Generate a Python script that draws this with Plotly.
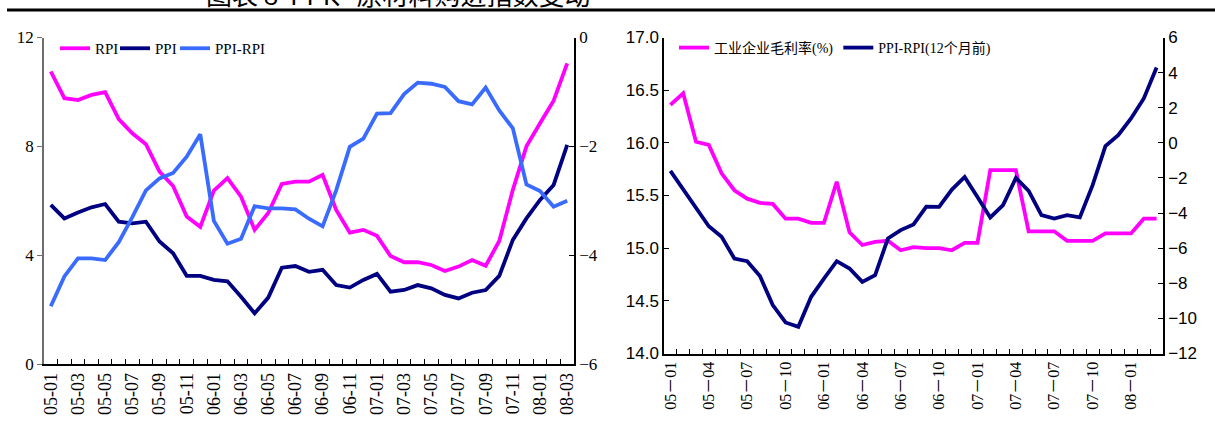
import plotly.graph_objects as go

# ---------------- data ----------------
months = ["05-01","05-02","05-03","05-04","05-05","05-06","05-07","05-08","05-09","05-10","05-11","05-12",
          "06-01","06-02","06-03","06-04","06-05","06-06","06-07","06-08","06-09","06-10","06-11","06-12",
          "07-01","07-02","07-03","07-04","07-05","07-06","07-07","07-08","07-09","07-10","07-11","07-12",
          "08-01","08-02","08-03"]

rpi = [10.75, 9.77, 9.70, 9.89, 9.99, 9.00, 8.48, 8.08, 7.07, 6.54, 5.42, 5.04,
       6.37, 6.83, 6.15, 4.93, 5.55, 6.62, 6.70, 6.70, 6.95, 5.66, 4.83, 4.93,
       4.71, 3.97, 3.74, 3.74, 3.64, 3.42, 3.58, 3.82, 3.61, 4.52, 6.40, 8.00,
       8.85, 9.68, 11.05]

ppi = [5.85, 5.35, 5.57, 5.76, 5.88, 5.23, 5.17, 5.23, 4.50, 4.07, 3.24, 3.24,
       3.09, 3.04, 2.47, 1.86, 2.44, 3.54, 3.60, 3.39, 3.46, 2.90, 2.81, 3.09,
       3.31, 2.66, 2.72, 2.90, 2.78, 2.54, 2.41, 2.62, 2.72, 3.24, 4.56, 5.35,
       6.03, 6.58, 8.05]

ppi_rpi = [-4.94, -4.39, -4.06, -4.06, -4.09, -3.76, -3.30, -2.81, -2.59, -2.49, -2.19, -1.78,
           -3.37, -3.79, -3.70, -3.10, -3.14, -3.14, -3.16, -3.33, -3.47, -2.81, -2.01, -1.86,
           -1.40, -1.39, -1.04, -0.83, -0.85, -0.91, -1.17, -1.23, -0.92, -1.34, -1.67, -2.70,
           -2.82, -3.11, -3.00]

gross_margin = [16.36, 16.47, 16.01, 15.98, 15.71, 15.55, 15.47, 15.43, 15.42, 15.28, 15.28, 15.24,
                15.24, 15.63, 15.15, 15.03, 15.06, 15.07, 14.98, 15.01, 15.00, 15.00, 14.98, 15.05,
                15.05, 15.74, 15.74, 15.74, 15.16, 15.16, 15.16, 15.07, 15.07, 15.07, 15.14, 15.14,
                15.14, 15.28, 15.28]

ppi_rpi_lag12 = [-1.60, -2.66, -3.70, -4.75, -5.35, -6.59, -6.74, -7.59, -9.24, -10.23, -10.48, -8.77,
                 -7.73, -6.74, -7.16, -7.92, -7.54, -5.45, -4.97, -4.65, -3.63, -3.65, -2.66, -1.94,
                 -3.08, -4.25, -3.55, -2.00, -2.74, -4.12, -4.31, -4.12, -4.25, -2.41, -0.19, 0.44,
                 1.39, 2.53, 4.29]

left_labels_every = 2
right_labels_every = 3

title_text = "图表 8  PPI、原材料购进指数变动"

# ---------------- figure ----------------
W, H = 1215, 432
MAGENTA = "#FF00FF"
NAVY = "#000080"
BLUE = "#3A6BFF"
LW = 3.8

serif = "Liberation Serif, Times New Roman, serif"
sans = "Liberation Sans, Arial, sans-serif"
legend_font = "Liberation Serif, Noto Sans CJK SC, serif"

fig = go.Figure()

fig.add_trace(go.Scatter(x=months, y=rpi, name="RPI", mode="lines", legendwidth=15,
                         line=dict(color=MAGENTA, width=LW), xaxis="x", yaxis="y", legend="legend"))
fig.add_trace(go.Scatter(x=months, y=ppi, name="PPI", mode="lines", legendwidth=15,
                         line=dict(color=NAVY, width=LW), xaxis="x", yaxis="y", legend="legend"))
fig.add_trace(go.Scatter(x=months, y=ppi_rpi, name="PPI-RPI", mode="lines", legendwidth=60,
                         line=dict(color=BLUE, width=LW), xaxis="x", yaxis="y2", legend="legend"))

fig.add_trace(go.Scatter(x=months, y=gross_margin, name="工业企业毛利率(%)", mode="lines",
                         line=dict(color=MAGENTA, width=LW), xaxis="x2", yaxis="y3", legend="legend2"))
fig.add_trace(go.Scatter(x=months, y=ppi_rpi_lag12, name="PPI-RPI(12个月前)", mode="lines",
                         line=dict(color=NAVY, width=LW), xaxis="x2", yaxis="y4", legend="legend2"))

left_ticktext = [m if i % left_labels_every == 0 else "" for i, m in enumerate(months)]
right_ticktext = [m.replace("-", "－") if i % right_labels_every == 0 else "" for i, m in enumerate(months)]

def px_x(a, b):
    return [a / W, b / W]

def px_y(top, bottom):
    return [1 - bottom / H, 1 - top / H]

common_x = dict(type="category", tickson="boundaries", ticks="inside", ticklen=5,
                tickwidth=1, showline=True, linewidth=1.5, linecolor="#000000",
                tickcolor="#000000", showgrid=False, zeroline=False, tickangle=-90,
                range=[-0.5, len(months) - 0.5], fixedrange=True, automargin=False)

common_y = dict(showline=True, linewidth=1.5, showgrid=False, zeroline=False, automargin=False)

fig.update_layout(
    width=W, height=H,
    margin=dict(l=0, r=0, t=0, b=0, autoexpand=False),
    paper_bgcolor="white", plot_bgcolor="white",
    showlegend=True,
    xaxis=dict(common_x, domain=px_x(44, 574), anchor="y",
               tickmode="array", tickvals=months, ticktext=left_ticktext,
               tickfont=dict(family=serif, size=18, color="#000")),
    yaxis=dict(common_y, domain=px_y(37.5, 364), range=[0, 12], tickvals=[0, 4, 8, 12],
               ticks="outside", ticklen=5, linecolor="#6e6e6e", tickcolor="#6e6e6e", anchor="x",
               tickfont=dict(family=serif, size=17, color="#000")),
    yaxis2=dict(common_y, overlaying="y", side="right", anchor="x", range=[-6, 0],
                tickvals=[-6, -4, -2, 0], ticks="inside", ticklen=5, linecolor="#000", tickcolor="#000",
                tickfont=dict(family=serif, size=17, color="#000")),
    xaxis2=dict(common_x, domain=px_x(664, 1163), anchor="y3",
                tickmode="array", tickvals=months, ticktext=right_ticktext,
                tickfont=dict(family="Liberation Serif, Noto Sans CJK SC, serif", size=16, color="#000")),
    yaxis3=dict(common_y, domain=px_y(37.5, 353.5), range=[14, 17],
                tickvals=[14, 14.5, 15, 15.5, 16, 16.5, 17], tickformat=".1f",
                ticks="inside", ticklen=5, linecolor="#000", tickcolor="#000", anchor="x2",
                tickfont=dict(family=sans, size=17, color="#000")),
    yaxis4=dict(common_y, overlaying="y3", side="right", anchor="x2", range=[-12, 6],
                tickvals=[-12, -10, -8, -6, -4, -2, 0, 2, 4, 6],
                ticks="inside", ticklen=5, linecolor="#000", tickcolor="#000",
                tickfont=dict(family=sans, size=17, color="#000")),
    legend=dict(orientation="h", x=55 / W, y=1 - 32 / H, xanchor="left", yanchor="top",
                font=dict(family=legend_font, size=15, color="#000"),
                bgcolor="rgba(0,0,0,0)", itemwidth=30, tracegroupgap=0),
    legend2=dict(orientation="h", x=674 / W, y=1 - 32 / H, xanchor="left", yanchor="top",
                 font=dict(family=legend_font, size=14, color="#000"),
                 bgcolor="rgba(0,0,0,0)", itemwidth=30, tracegroupgap=0),
    shapes=[dict(type="line", xref="paper", yref="paper", x0=7 / W, x1=1.0,
                 y0=1 - 10 / H, y1=1 - 10 / H, line=dict(color="#000", width=3), layer="above")],
    annotations=[dict(text=title_text, xref="paper", yref="paper", x=204 / W, y=1 - 14.5 / H,
                      xanchor="left", yanchor="bottom", showarrow=False,
                      font=dict(family="Noto Sans CJK SC", size=26, color="#000"))],
)

fig.write_html("out.html", config={"displayModeBar": False},
               post_script="document.body.style.margin='0';document.body.style.padding='0';")
